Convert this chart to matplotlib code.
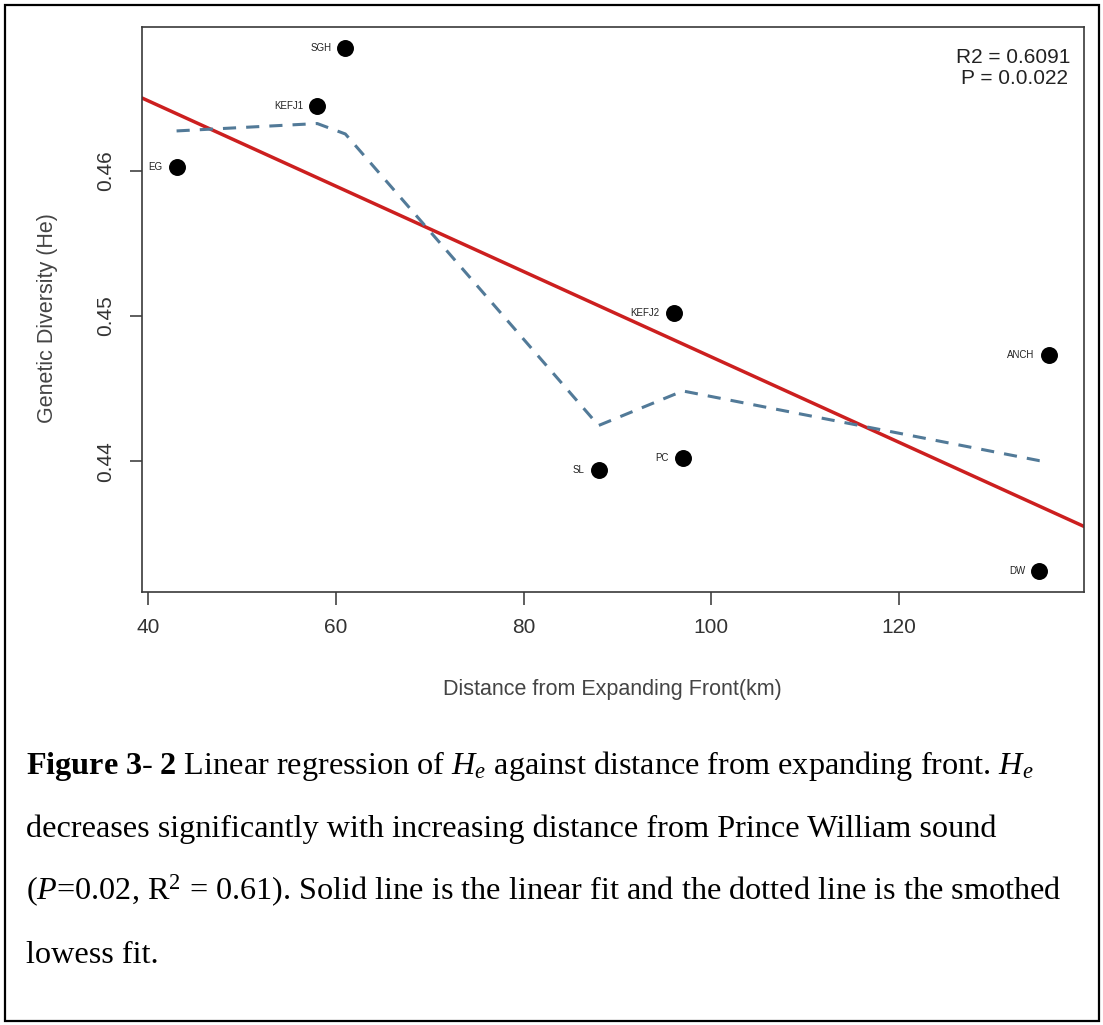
import matplotlib
matplotlib.use("Agg")
import matplotlib.pyplot as plt
from matplotlib.patches import Rectangle
import numpy as np

plt.rcParams["mathtext.fontset"] = "custom"
plt.rcParams["mathtext.rm"] = "Liberation Serif"
plt.rcParams["mathtext.it"] = "Liberation Serif:italic"
plt.rcParams["mathtext.bf"] = "Liberation Serif:bold"

# site data
sites = ["EG", "KEFJ1", "SGH", "SL", "KEFJ2", "PC", "DW", "ANCH"]
distance = [43, 58, 61, 88, 96, 97, 135, 136]
he = [0.46027, 0.46445, 0.46848, 0.43942, 0.45024, 0.44023, 0.43243, 0.44731]

# lowess fitted values at the sorted distances
lowess_he = [0.46276, 0.46327, 0.46255, 0.44246, 0.44458, 0.44484, 0.44004, 0.44000]

xticks = [40, 60, 80, 100, 120]
yticks = [0.44, 0.45, 0.46]

stats_lines = ["R2 = 0.6091", "P = 0.0.022"]

W, H = 1103, 1025
fig = plt.figure(figsize=(W / 100, H / 100), dpi=100)

ax = fig.add_axes([141.7 / W, 1 - 592 / H, (1083.5 - 141.7) / W, (592 - 27) / H])

x = np.array(distance)
y = np.array(he)
xr = x.max() - x.min()
yr = y.max() - y.min()
ax.set_xlim(x.min() - 0.04 * xr, x.max() + 0.04 * xr)
ax.set_ylim(y.min() - 0.04 * yr, y.max() + 0.04 * yr)

# linear fit
slope, icpt = np.polyfit(x, y, 1)
xl = np.array(ax.get_xlim())
ax.plot(xl, icpt + slope * xl, color="#cc1f1f", lw=2.5, zorder=2)

# smoothed lowess curve
ln, = ax.plot(distance, lowess_he, color="#527a98", lw=2.2, zorder=2)
ln.set_dashes((4.3, 3.3))

ax.scatter(distance, he, s=125, color="black", zorder=3)
for name, xi, yi in zip(sites, distance, he):
    ax.annotate(name, (xi, yi), xytext=(-14, 0), textcoords="offset pixels",
                ha="right", va="center", fontsize=7, color="#222222",
                family="Liberation Sans")

ax.set_xticks(xticks)
ax.set_xticklabels([str(t) for t in xticks])
ax.set_yticks(yticks)
ax.set_yticklabels([f"{t:.2f}" for t in yticks], rotation=90, va="center")
ax.tick_params(direction="out", length=9, width=1.1, color="#333333",
               labelsize=15, labelcolor="#333333", pad=10)
for lab in ax.get_xticklabels() + ax.get_yticklabels():
    lab.set_family("Liberation Sans")
for sp in ax.spines.values():
    sp.set_color("#3a3a3a")
    sp.set_linewidth(1.2)

ax.set_xlabel("Distance from Expanding Front(km)", fontsize=15.5,
              color="#444444", family="Liberation Sans")
ax.set_ylabel("Genetic Diversity (He)", fontsize=15.5,
              color="#444444", family="Liberation Sans")
ax.xaxis.set_label_coords(0.5, -(690 - 592) / (592 - 27), transform=ax.transAxes)
ax.yaxis.set_label_coords(-(141.7 - 48) / (1083.5 - 141.7), 0.485)
ax.xaxis.label.set_va("center")
ax.yaxis.label.set_va("center")

# statistics in the top-right corner
ax.text(1070, H - 63, stats_lines[0], transform=None, ha="right", va="baseline",
        fontsize=15, color="#222222", family="Liberation Sans")
ax.text(1068, H - 84, stats_lines[1], transform=None, ha="right", va="baseline",
        fontsize=15, color="#222222", family="Liberation Sans")

# caption
cap_x = 26 / W
base = [774, 837, 900, 963]
fs = 23.2
fig.text(cap_x, 1 - base[0] / H,
         r"$\mathbf{Figure\ 3\text{-}\ 2}$ Linear regression of $\mathit{H_e}$ against distance from expanding front. $\mathit{H_e}$",
         fontsize=fs, va="baseline", family="Liberation Serif")
fig.text(cap_x, 1 - base[1] / H,
         "decreases significantly with increasing distance from Prince William sound",
         fontsize=fs, va="baseline", family="Liberation Serif")
fig.text(cap_x, 1 - base[2] / H,
         r"($\mathit{P}$=0.02, R$^2$ = 0.61). Solid line is the linear fit and the dotted line is the smothed",
         fontsize=fs, va="baseline", family="Liberation Serif")
fig.text(cap_x, 1 - base[3] / H, "lowess fit.",
         fontsize=fs, va="baseline", family="Liberation Serif")

fig.patches.append(Rectangle((5 / W, 1 - 1021 / H), (1099 - 5) / W, (1021 - 5) / H,
                             transform=fig.transFigure, fill=False,
                             edgecolor="black", lw=1.6))

fig.savefig("out.png", dpi=100)
